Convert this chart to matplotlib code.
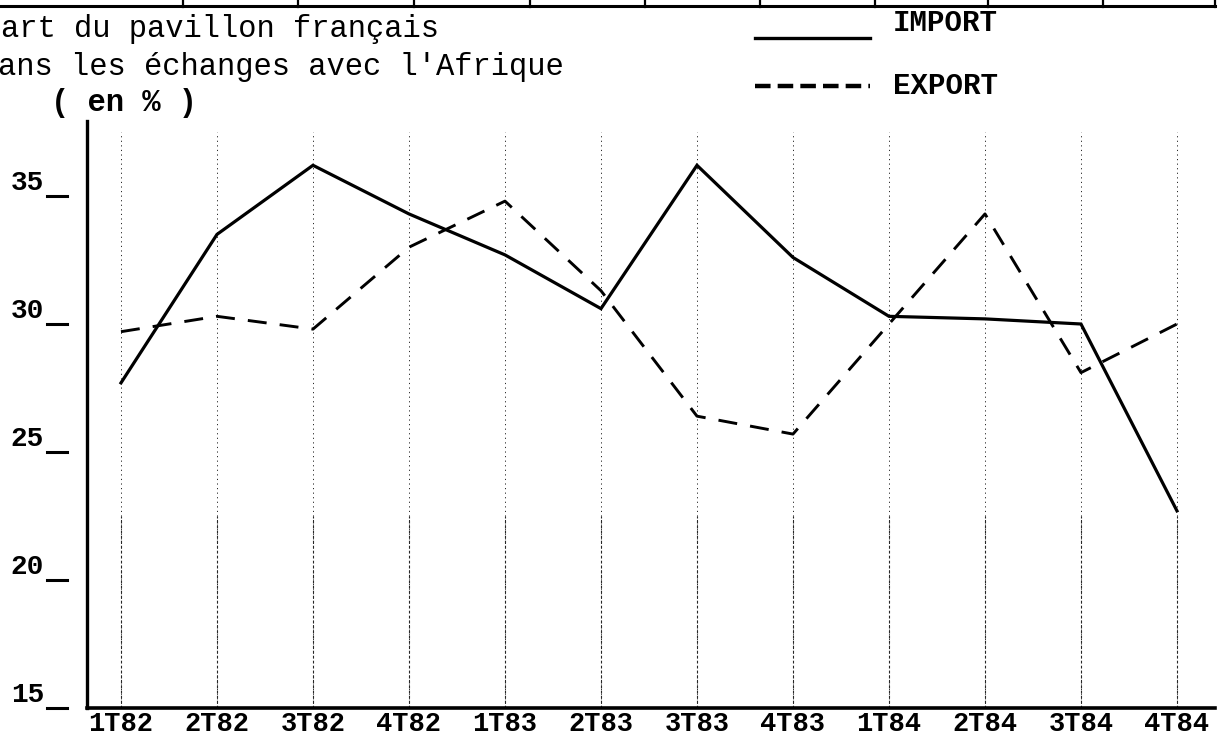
import matplotlib
matplotlib.use("Agg")
import matplotlib.pyplot as plt
from matplotlib.lines import Line2D
import matplotlib.transforms as mtransforms

# ---- data ----
QUARTERS = ["1T82", "2T82", "3T82", "4T82", "1T83", "2T83",
            "3T83", "4T83", "1T84", "2T84", "3T84", "4T84"]
IMPORT = [27.7, 33.5, 36.2, 34.3, 32.7, 30.6, 36.2, 32.6, 30.3, 30.2, 30.0, 22.7]
EXPORT = [29.7, 30.3, 29.8, 33.0, 34.8, 31.3, 26.4, 25.7, 30.0, 34.3, 28.1, 30.0]
YTICKS = [15, 20, 25, 30, 35]
TITLE_LINES = ["art du pavillon français", "ans les échanges avec l'Afrique"]
UNIT = "( en % )"

W, H = 1228, 738
FONT = "Liberation Mono"
plt.rcParams["font.family"] = [FONT, "DejaVu Sans Mono"]

fig = plt.figure(figsize=(W / 100, H / 100), dpi=100)
fig.patch.set_facecolor("white")

ax_left, ax_right, ax_top, ax_bottom = 87, 1215, 121, 708
ax = fig.add_axes([ax_left / W, (H - ax_bottom) / H,
                   (ax_right - ax_left) / W, (ax_bottom - ax_top) / H])

x = list(range(len(QUARTERS)))

# faint dotted verticals (scan grid)
for xi in x:
    ax.plot([xi, xi], [15, 37.5], color="0.15", lw=0.7,
            linestyle=(0, (1.2, 3.5)), zorder=1)
    ax.plot([xi, xi], [15, 22.5], color="0.15", lw=0.8,
            linestyle=(0, (2.5, 2)), zorder=1)

ax.plot(x, IMPORT, color="black", lw=2.3, solid_joinstyle="miter", zorder=3)
ax.plot(x, EXPORT, color="black", lw=2.1, linestyle=(0, (6.5, 4.5)), zorder=3)

ax.set_xlim(-0.354, 11.396)
ax.set_ylim(15, 37.93)

for s in ["top", "right"]:
    ax.spines[s].set_visible(False)
ax.spines["left"].set_linewidth(2.4)
ax.spines["bottom"].set_linewidth(2.6)

ax.set_xticks(x)
ax.set_xticklabels(QUARTERS, fontsize=19.5, fontweight="bold", family=FONT)
ax.tick_params(axis="x", length=0, pad=2)
ax.set_yticks([])

# y tick labels with detached underscore marks
trans = mtransforms.blended_transform_factory(fig.transFigure, ax.transData)
off = mtransforms.offset_copy(trans, fig=fig, x=0, y=4.3, units="points")
for yv in YTICKS:
    ax.text(44 / W, yv, str(yv), transform=off, ha="right", va="baseline",
            fontsize=20, fontweight="bold", family=FONT, clip_on=False)
    ax.add_line(Line2D([47 / W, 67 / W], [yv, yv], transform=trans,
                       color="black", lw=2.2, clip_on=False))

# title lines
fig.text(1 / W, 1 - 37 / H, TITLE_LINES[0], ha="left", va="baseline",
         fontsize=22, family=FONT)
fig.text(-2 / W, 1 - 75 / H, TITLE_LINES[1], ha="left", va="baseline",
         fontsize=22, family=FONT)
fig.text(51 / W, 1 - 111 / H, UNIT, ha="left", va="baseline",
         fontsize=22, fontweight="bold", family=FONT)

# legend (manual, as in the original)
fig.add_artist(Line2D([755 / W, 870 / W], [1 - 38 / H, 1 - 38 / H],
                      color="black", lw=2.4))
fig.text(893 / W, 1 - 23 / H, "IMPORT", ha="left", va="center",
         fontsize=21, fontweight="bold", family=FONT)
fig.add_artist(Line2D([755 / W, 870 / W], [1 - 86 / H, 1 - 86 / H],
                      color="black", lw=3.2, linestyle=(0, (3.5, 1.6))))
fig.text(893 / W, 1 - 86 / H, "EXPORT", ha="left", va="center",
         fontsize=21, fontweight="bold", family=FONT)

# table border remnant at the top of the scan
fig.add_artist(Line2D([0, 1215 / W], [1 - 6 / H, 1 - 6 / H], color="black", lw=2.2))
for cx in [183, 298, 414, 530, 645, 760, 875, 988, 1103, 1215]:
    fig.add_artist(Line2D([cx / W, cx / W], [1 - 7 / H, 1.0], color="black", lw=1.6))

fig.savefig("out.png", dpi=100, facecolor="white")
